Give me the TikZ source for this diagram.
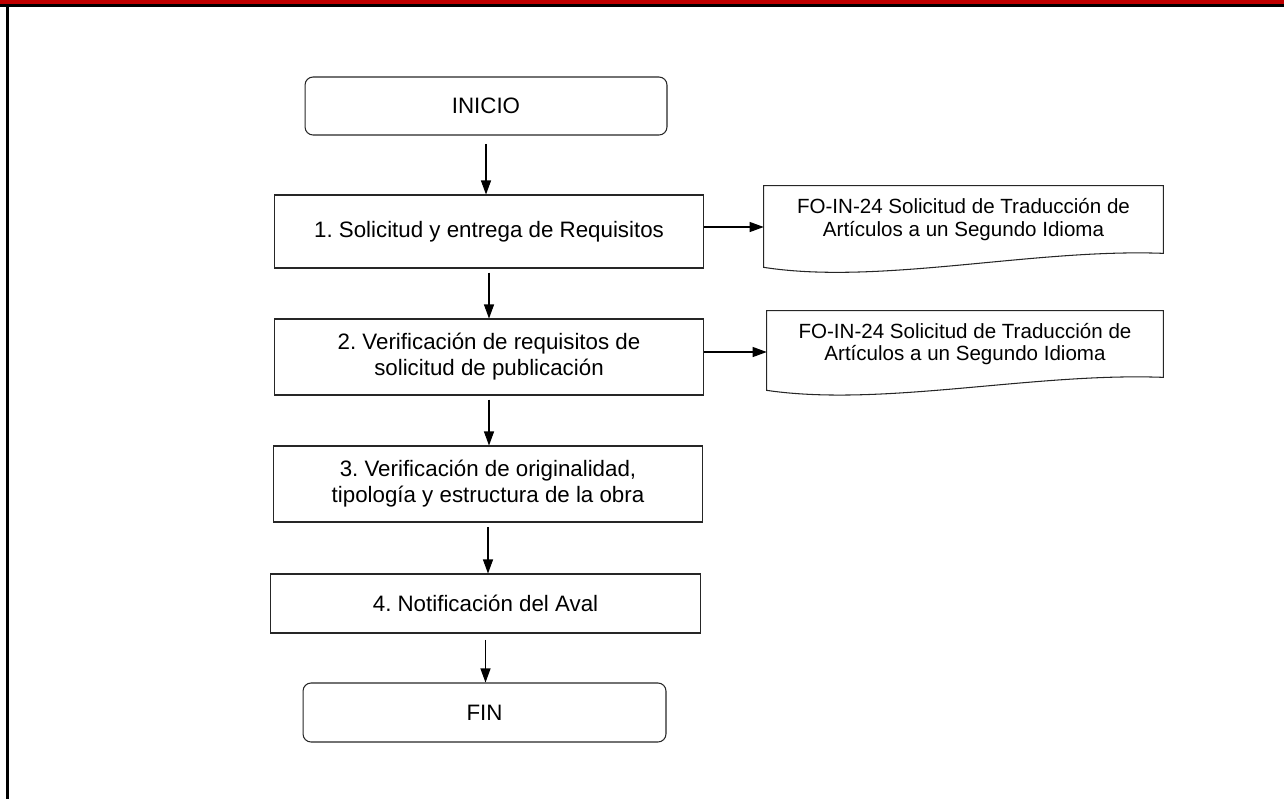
\documentclass[tikz,border=0pt]{standalone}
\usepackage{fontspec}
\setmainfont{Liberation Sans}
\usetikzlibrary{arrows.meta,calc,positioning}
\definecolor{barred}{HTML}{C00000}
\frenchspacing
\tikzset{
  paso/.style={draw=black!85, line width=0.6pt, align=center, inner sep=0pt,
    font=\fontsize{12.7}{14.8}\selectfont},
  terminal/.style={paso, rounded corners=0.16cm},
  docu/.style={align=center, inner sep=0pt, font=\fontsize{11.7}{12.7}\selectfont},
  flecha/.style={line width=0.6pt, -{Triangle[length=0.28cm,width=0.2cm]}},
}

\begin{document}
\begin{tikzpicture}[x=0.02cm, y=-0.02cm]
  \useasboundingbox (0,0) rectangle (1284,799);

  % marco
  \fill[barred] (0,0) rectangle (1284,4);
  \fill[black] (0,4) rectangle (1284,6.5);
  \fill[black] (6,4) rectangle (8.5,799);

  % flujo
  \node[terminal, minimum width=7.24cm, minimum height=1.16cm] (inicio) at (486,106) {INICIO};
  \node[paso, minimum width=8.6cm, minimum height=1.46cm] (paso1) at (489,231.5) {1. Solicitud y entrega de Requisitos};
  \node[paso, minimum width=8.6cm, minimum height=1.52cm] (paso2) at (489,357) {2. Verificación de requisitos de\\solicitud de publicación};
  \node[paso, minimum width=8.6cm, minimum height=1.52cm] (paso3) at (488,484) {3. Verificación de originalidad,\\tipología y estructura de la obra};
  \node[paso, minimum width=8.62cm, minimum height=1.18cm] (paso4) at (485.5,603.5) {4. Notificación del Aval};
  \node[terminal, minimum width=7.26cm, minimum height=1.18cm] (fin) at (484.5,712.5) {FIN};

  % documentos
  \node[docu, minimum width=7.98cm, minimum height=1.34cm] (doc1) at (963.5,219.5) {FO-IN-24 Solicitud de Traducción de\\Artículos a un Segundo Idioma};
  \draw[draw=black!85, line width=0.6pt] (doc1.south east) -- (doc1.north east) -- (doc1.north west)
    -- ($(doc1.south west)+(0,14)$) .. controls +(116,18) and +(-130,-5) .. (doc1.south east) -- cycle;

  \node[docu, minimum width=7.92cm, minimum height=1.32cm] (doc2) at (965,344) {FO-IN-24 Solicitud de Traducción de\\Artículos a un Segundo Idioma};
  \draw[draw=black!85, line width=0.6pt] (doc2.south east) -- (doc2.north east) -- (doc2.north west)
    -- ($(doc2.south west)+(0,13)$) .. controls +(116,17) and +(-130,-5) .. (doc2.south east) -- cycle;

  % flechas
  \draw[flecha, shorten <=8\pgflinewidth] (inicio.south) -- (inicio.south |- paso1.north);
  \draw[flecha, shorten <=4\pgflinewidth] (paso1.south) -- (paso1.south |- paso2.north);
  \draw[flecha, shorten <=4\pgflinewidth] (paso2.south) -- (paso2.south |- paso3.north);
  \draw[flecha, shorten <=4\pgflinewidth] (paso3.south) -- (paso3.south |- paso4.north);
  \draw[flecha, shorten <=6\pgflinewidth] (paso4.south) -- (paso4.south |- fin.north);
  \draw[flecha] ([yshift=0.09cm]paso1.east) -- ([yshift=0.09cm]paso1.east -| doc1.west);
  \draw[flecha] ([yshift=0.1cm]paso2.east) -- ([yshift=0.1cm]paso2.east -| doc2.west);
\end{tikzpicture}
\end{document}
